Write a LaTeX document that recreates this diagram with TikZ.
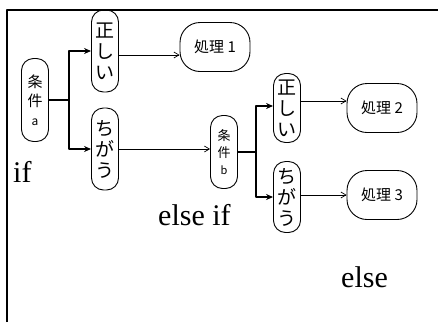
\documentclass[tikz,border=0pt]{standalone}
\usepackage{fontspec}
\setmainfont{Liberation Serif}
\newfontfamily\jpfont{Noto Sans CJK JP}
\usetikzlibrary{arrows.meta}
\tikzset{
  tallbox/.style={draw, line width=0.9pt, rounded corners=12pt, minimum width=27pt, inner sep=0.5pt, align=center, font=\jpfont\fontsize{19}{21}\selectfont},
  condbox/.style={tallbox, font=\jpfont\fontsize{15}{19}\selectfont},
  procbox/.style={draw, line width=0.9pt, rounded corners=20pt, minimum width=70pt, minimum height=49pt, font=\jpfont\fontsize{15}{17}\selectfont},
  branch/.style={line width=1.1pt, -{Stealth[length=7pt,width=6pt]}},
  flow/.style={line width=0.7pt, -{Straight Barb[length=5pt,width=6pt]}},
  kw/.style={anchor=base west, inner sep=0pt, font=\fontsize{30}{32}\selectfont}
}
\begin{document}
\begin{tikzpicture}[x=1pt, y=-1pt, line join=round]
  \useasboundingbox (0,0) rectangle (438,322);
  % frame
  \draw[line width=1.4pt] (7,322) -- (7,10) -- (438,10);
  % condition a
  \node[condbox, minimum height=83pt] (ca) at (35,100) {条\\件\\{\fontsize{12}{14}\selectfont a}};
  \node[tallbox, minimum height=82pt] (ta) at (105,51) {正\\し\\い};
  \node[tallbox, minimum height=82pt] (fa) at (105,149) {ち\\が\\う};
  \node[procbox] (p1) at (215,47) {処理 1};
  % condition b
  \node[condbox, minimum height=73pt, font=\jpfont\fontsize{13}{17}\selectfont] (cb) at (224,152) {条\\件\\{\fontsize{11}{13}\selectfont b}};
  \node[tallbox, minimum height=69pt] (tb) at (287,108) {正\\し\\い};
  \node[tallbox, minimum height=71pt] (fb) at (287,197) {ち\\が\\う};
  \node[procbox] (p2) at (382,108) {処理 2};
  \node[procbox] (p3) at (382,195) {処理 3};
  % branches
  \draw[line width=1.1pt] (ca.east) -- ++(20,0) coordinate (ja);
  \draw[branch] (ja) |- (ta.west);
  \draw[branch] (ja) |- (fa.west);
  \draw[line width=1.1pt] (cb.east) -- ++(18,0) coordinate (jb);
  \draw[branch] (jb) |- ([yshift=2pt]tb.west);
  \draw[branch] (jb) |- (fb.west);
  \draw[flow] ([yshift=-4pt]ta.east) -- ([yshift=-4pt]ta.east -| p1.west);
  \draw[flow] (fa.east) -- (fa.east -| cb.west);
  \draw[flow] ([yshift=7pt]tb.east) -- ([yshift=7pt]tb.east -| p2.west);
  \draw[flow] (fb.east |- p3.west) -- (p3.west);
  % keywords
  \node[kw] (kif) at (13,182) {if};
  \node[kw] (kelif) at (158,225) {else if};
  \node[kw] (kelse) at (341,287) {else};
\end{tikzpicture}
\end{document}
